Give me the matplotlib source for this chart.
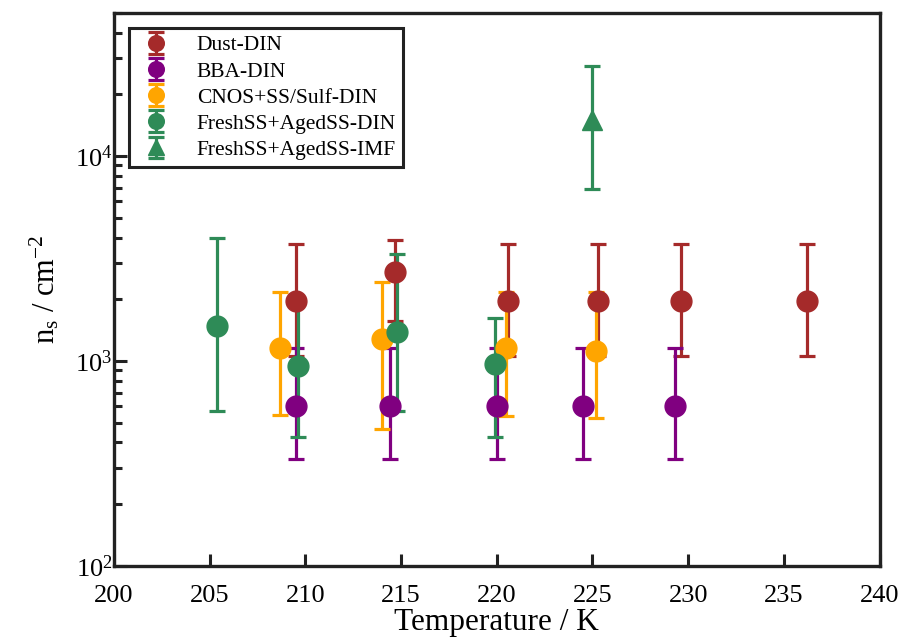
import matplotlib
matplotlib.use("Agg")
import matplotlib.pyplot as plt
import numpy as np

plt.rcParams['font.family'] = ['Liberation Serif', 'DejaVu Serif']
plt.rcParams['mathtext.fontset'] = 'custom'
plt.rcParams['mathtext.rm'] = 'Liberation Serif'
plt.rcParams['mathtext.it'] = 'Liberation Serif:italic'
plt.rcParams['mathtext.bf'] = 'Liberation Serif:bold'

# Dust-DIN
dust_T = [209.5, 214.7, 220.6, 225.3, 229.6, 236.2]
dust_v = [1950, 2730, 1950, 1950, 1950, 1950]
dust_lo = [1060, 1560, 1060, 1060, 1060, 1060]
dust_hi = [3700, 3900, 3700, 3700, 3700, 3700]

# BBA-DIN
bba_T = [209.5, 214.4, 220.0, 224.5, 229.3]
bba_v = [605, 605, 605, 605, 605]
bba_lo = [333, 333, 333, 333, 333]
bba_hi = [1160, 1160, 1160, 1160, 1160]

# CNOS+SS/Sulf-DIN
cnos_T = [208.7, 214.0, 220.5, 225.2]
cnos_v = [1160, 1283, 1160, 1120]
cnos_lo = [543, 464, 538, 527]
cnos_hi = [2180, 2440, 2180, 2180]

# FreshSS+AgedSS-DIN
fdin_T = [205.4, 209.6, 214.8, 219.9]
fdin_v = [1485, 944, 1387, 966]
fdin_lo = [569, 424, 569, 424]
fdin_hi = [3960, 1923, 3310, 1620]

# FreshSS+AgedSS-IMF
fimf_T = [225.0]
fimf_v = [15000]
fimf_lo = [6890]
fimf_hi = [27600]

series = [
    ("Dust-DIN", dust_T, dust_v, dust_lo, dust_hi, "#A52A2A", "o"),
    ("BBA-DIN", bba_T, bba_v, bba_lo, bba_hi, "#800080", "o"),
    ("CNOS+SS/Sulf-DIN", cnos_T, cnos_v, cnos_lo, cnos_hi, "#FFA500", "o"),
    ("FreshSS+AgedSS-DIN", fdin_T, fdin_v, fdin_lo, fdin_hi, "#2E8B57", "o"),
    ("FreshSS+AgedSS-IMF", fimf_T, fimf_v, fimf_lo, fimf_hi, "#2E8B57", "^"),
]

fig = plt.figure(figsize=(9.04, 6.40), dpi=100)
ax = fig.add_axes([0.126, 0.116, 0.847, 0.864])

for name, T, v, lo, hi, c, m in series:
    v = np.array(v, float)
    yerr = np.vstack([v - np.array(lo, float), np.array(hi, float) - v])
    ax.errorbar(T, v, yerr=yerr, fmt=m, color=c, ecolor=c, markersize=15,
                elinewidth=2.3, capsize=5.5, capthick=2.3, label=name)

ax.set_yscale('log')
ax.set_xlim(200, 240)
ax.set_ylim(1e2, 5e4)
ax.set_xticks(np.arange(200, 241, 5))

for s in ax.spines.values():
    s.set_linewidth(2.4)
    s.set_color('#222222')
ax.tick_params(which='both', direction='in', top=False, right=False,
               labelsize=19, width=2.2, color='#222222')
ax.tick_params(which='major', length=9)
ax.tick_params(which='minor', length=6)
ax.tick_params(axis='x', which='major', pad=14)
ax.tick_params(axis='y', which='major', pad=1)

ax.set_xlabel('Temperature / K', fontsize=22.5)
ax.xaxis.label.set_va('baseline')
ax.xaxis.set_label_coords(0.5, -0.117)
ax.set_ylabel(r'n$_\mathrm{s}$ / cm$^{\mathrm{-2}}$', fontsize=22, labelpad=10)

leg = ax.legend(loc='upper left', fontsize=15.5, frameon=True, fancybox=False,
                framealpha=1, edgecolor='#222222', borderaxespad=0.7,
                handletextpad=1.0, labelspacing=0.28, borderpad=0.35,
                handlelength=1.8, markerscale=0.75)
leg.get_frame().set_linewidth(2.2)

fig.savefig('out.png', dpi=100)
